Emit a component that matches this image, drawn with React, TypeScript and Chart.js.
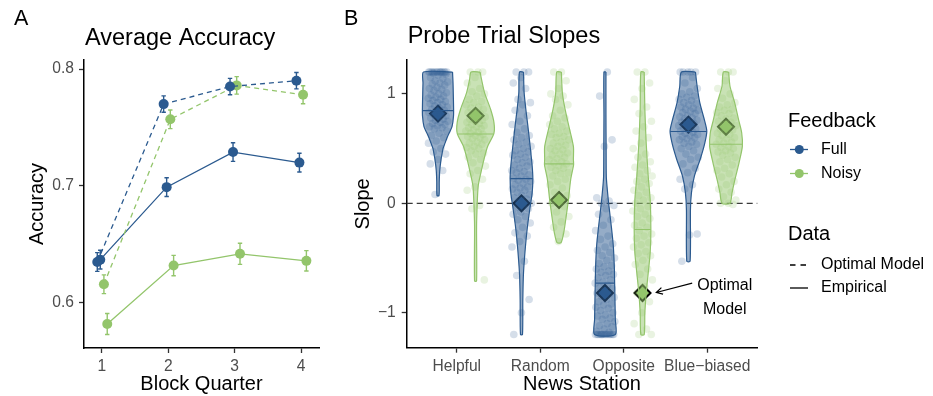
import React, { useEffect, useRef } from "react";
import { Chart, registerables } from "chart.js";

Chart.register(...registerables);

const FONT = "'Liberation Sans', Arial, Helvetica, sans-serif";
Chart.defaults.font.family = FONT;

const BLUE = "#2b5a8f";
const GREEN = "#93c56b";
const TICK_COLOR = "#4d4d4d";

// ---------- Panel A: average accuracy per block quarter ----------
const quarters = [1, 2, 3, 4];
const accTicks = [0.6, 0.7, 0.8];
const fullOptimalAcc = [0.635, 0.77, 0.785, 0.79];
const fullOptimalSe = [0.008, 0.007, 0.007, 0.007];
const noisyOptimalAcc = [0.616, 0.757, 0.786, 0.778];
const noisyOptimalSe = [0.008, 0.008, 0.0075, 0.0077];
const fullEmpiricalAcc = [0.637, 0.699, 0.729, 0.72];
const fullEmpiricalSe = [0.008, 0.008, 0.008, 0.008];
const noisyEmpiricalAcc = [0.582, 0.632, 0.642, 0.636];
const noisyEmpiricalSe = [0.009, 0.0087, 0.009, 0.0087];

// ---------- Panel B: probe trial slopes per news station ----------
const stations = ["Helpful", "Random", "Opposite", "Blue\u2212biased"];
const slopeTicks = [-1, 0, 1];
const feedbackLevels = ["Full", "Noisy"];
const dataLevels = ["Optimal Model", "Empirical"];

const optimalFull = [0.82, 0.0, -0.82, 0.72];
const optimalNoisy = [0.8, 0.03, -0.82, 0.7];
const medianFull = [0.847, 0.226, -0.73, 0.657];
const medianNoisy = [0.634, 0.36, -0.24, 0.54];

// violin outlines: slope levels (top to bottom) and full violin width in x units
const helpfulFullLevels = [1.2, 1.1, 1.0, 0.9, 0.8, 0.7, 0.65, 0.6, 0.55, 0.5, 0.45, 0.4, 0.3, 0.2, 0.07];
const helpfulFullWidths = [0.348, 0.36, 0.366, 0.372, 0.372, 0.336, 0.276, 0.216, 0.168, 0.12, 0.096, 0.072, 0.042, 0.03, 0.024];
const helpfulNoisyLevels = [1.2, 1.13, 1.01, 0.86, 0.74, 0.64, 0.52, 0.4, 0.28, 0.16, 0.0, -0.21, -0.71];
const helpfulNoisyWidths = [0.108, 0.144, 0.216, 0.36, 0.44, 0.44, 0.288, 0.2, 0.128, 0.064, 0.04, 0.024, 0.024];
const randomFullLevels = [1.2, 1.01, 0.86, 0.71, 0.52, 0.34, 0.23, 0.095, -0.03, -0.21, -0.39, -0.64, -0.88, -1.2];
const randomFullWidths = [0.048, 0.064, 0.104, 0.152, 0.208, 0.256, 0.272, 0.256, 0.208, 0.144, 0.096, 0.048, 0.032, 0.024];
const randomNoisyLevels = [1.2, 1.01, 0.86, 0.71, 0.52, 0.4, 0.35, 0.22, 0.03, -0.15, -0.27, -0.36];
const randomNoisyWidths = [0.056, 0.08, 0.144, 0.232, 0.344, 0.344, 0.348, 0.28, 0.224, 0.16, 0.112, 0.048];
const oppositeFullLevels = [1.2, 0.8, 0.5, 0.25, 0.16, 0.0, -0.21, -0.39, -0.58, -0.73, -0.88, -1.06, -1.2];
const oppositeFullWidths = [0.024, 0.024, 0.028, 0.032, 0.048, 0.088, 0.152, 0.2, 0.224, 0.232, 0.24, 0.248, 0.248];
const oppositeNoisyLevels = [1.2, 0.86, 0.55, 0.25, 0.03, -0.24, -0.45, -0.64, -0.82, -1.0, -1.2];
const oppositeNoisyWidths = [0.04, 0.056, 0.088, 0.136, 0.184, 0.2, 0.184, 0.136, 0.088, 0.056, 0.04];
const blueFullLevels = [1.2, 1.07, 0.92, 0.76, 0.66, 0.55, 0.4, 0.25, 0.095, -0.06, -0.53];
const blueFullWidths = [0.168, 0.208, 0.272, 0.384, 0.44, 0.392, 0.28, 0.144, 0.072, 0.048, 0.04];
const blueNoisyLevels = [1.2, 1.07, 0.92, 0.76, 0.645, 0.52, 0.37, 0.22, 0.095, 0.0];
const blueNoisyWidths = [0.064, 0.096, 0.208, 0.304, 0.376, 0.392, 0.312, 0.216, 0.144, 0.096];

// individual participant slopes
const helpfulFullSlopes = [1.2, 1.2, 1.2, 1.2, 1.2, 1.2, 1.2, 1.2, 1.2, 1.2, 1.2, 1.2, 1.2, 1.2, 1.19, 1.18, 1.17, 1.15, 1.14, 1.12, 1.11, 1.1, 1.09, 1.08, 1.06, 1.05, 1.04, 1.03, 1.01, 1.0, 0.99, 0.98, 0.97, 0.96, 0.95, 0.94, 0.93, 0.92, 0.91, 0.9, 0.89, 0.88, 0.87, 0.86, 0.85, 0.84, 0.83, 0.82, 0.81, 0.8, 0.79, 0.78, 0.77, 0.76, 0.75, 0.74, 0.73, 0.72, 0.71, 0.7, 0.69, 0.68, 0.66, 0.64, 0.62, 0.6, 0.57, 0.55, 0.5, 0.47, 0.45, 0.4, 0.36, 0.3, 0.08];
const helpfulNoisySlopes = [1.2, 1.2, 1.2, 1.15, 1.1, 1.05, 1.02, 1.0, 0.98, 0.95, 0.93, 0.92, 0.9, 0.88, 0.87, 0.86, 0.84, 0.83, 0.82, 0.8, 0.79, 0.78, 0.77, 0.76, 0.75, 0.74, 0.73, 0.72, 0.71, 0.7, 0.69, 0.68, 0.67, 0.66, 0.65, 0.64, 0.63, 0.62, 0.61, 0.6, 0.59, 0.58, 0.56, 0.55, 0.54, 0.52, 0.51, 0.5, 0.48, 0.46, 0.45, 0.42, 0.4, 0.37, 0.34, 0.3, 0.27, 0.22, 0.15, 0.12, -0.02, -0.05, -0.7];
const randomFullSlopes = [1.2, 1.2, 1.2, 1.15, 1.1, 1.05, 0.95, 0.92, 0.9, 0.85, 0.8, 0.75, 0.72, 0.68, 0.65, 0.62, 0.6, 0.58, 0.56, 0.54, 0.52, 0.5, 0.48, 0.47, 0.45, 0.44, 0.42, 0.4, 0.38, 0.37, 0.35, 0.34, 0.32, 0.3, 0.29, 0.28, 0.26, 0.25, 0.23, 0.22, 0.21, 0.2, 0.18, 0.17, 0.15, 0.14, 0.13, 0.12, 0.1, 0.08, 0.07, 0.05, 0.04, 0.02, 0, -0.02, -0.04, -0.05, -0.08, -0.1, -0.12, -0.15, -0.18, -0.22, -0.27, -0.3, -0.35, -0.4, -0.53, -0.66, -0.88, -1.0, -1.2];
const randomNoisySlopes = [1.2, 1.2, 1.12, 1.05, 1.0, 0.98, 0.95, 0.9, 0.85, 0.8, 0.78, 0.75, 0.72, 0.7, 0.68, 0.66, 0.64, 0.63, 0.61, 0.6, 0.58, 0.56, 0.55, 0.53, 0.52, 0.5, 0.49, 0.48, 0.46, 0.45, 0.44, 0.42, 0.41, 0.4, 0.38, 0.37, 0.36, 0.34, 0.33, 0.32, 0.3, 0.28, 0.27, 0.25, 0.22, 0.2, 0.17, 0.14, 0.1, 0.07, 0.03, 0, -0.03, -0.08, -0.12, -0.17, -0.22, -0.28, -0.35];
const oppositeFullSlopes = [1.2, 0.98, 0.58, 0.52, 0.05, 0.02, 0, -0.02, -0.05, -0.1, -0.15, -0.2, -0.25, -0.3, -0.33, -0.37, -0.4, -0.43, -0.45, -0.48, -0.5, -0.52, -0.55, -0.57, -0.58, -0.6, -0.62, -0.63, -0.65, -0.66, -0.68, -0.7, -0.72, -0.73, -0.75, -0.77, -0.78, -0.8, -0.82, -0.83, -0.85, -0.86, -0.88, -0.9, -0.92, -0.93, -0.95, -0.96, -0.98, -1.0, -1.02, -1.03, -1.05, -1.06, -1.08, -1.1, -1.12, -1.13, -1.15, -1.17, -1.18, -1.2, -1.2, -1.2, -1.2, -1.2, -1.2, -1.2, -1.2, -1.2, -1.2, -1.2, -1.2, -1.2, -1.2];
const oppositeNoisySlopes = [1.2, 1.2, 1.1, 1.05, 0.95, 0.88, 0.82, 0.75, 0.7, 0.66, 0.6, 0.55, 0.5, 0.45, 0.42, 0.38, 0.35, 0.33, 0.3, 0.27, 0.25, 0.22, 0.2, 0.18, 0.15, 0.12, 0.1, 0.07, 0.05, 0.03, 0, -0.03, -0.05, -0.07, -0.1, -0.12, -0.14, -0.18, -0.2, -0.22, -0.25, -0.28, -0.3, -0.32, -0.36, -0.38, -0.4, -0.44, -0.46, -0.48, -0.52, -0.56, -0.6, -0.65, -0.7, -0.76, -0.82, -0.9, -1.0, -1.1, -1.15, -1.2, -1.2];
const blueFullSlopes = [1.2, 1.2, 1.2, 1.2, 1.2, 1.15, 1.1, 1.05, 1.02, 1.0, 0.98, 0.97, 0.95, 0.94, 0.92, 0.91, 0.9, 0.88, 0.87, 0.86, 0.85, 0.84, 0.83, 0.82, 0.8, 0.79, 0.78, 0.77, 0.76, 0.75, 0.74, 0.73, 0.72, 0.71, 0.7, 0.69, 0.68, 0.67, 0.66, 0.65, 0.64, 0.63, 0.62, 0.61, 0.6, 0.59, 0.58, 0.56, 0.55, 0.54, 0.52, 0.5, 0.48, 0.45, 0.42, 0.4, 0.36, 0.32, 0.28, 0.22, 0.17, 0.13, -0.28, -0.29, -0.53];
const blueNoisySlopes = [1.2, 1.2, 1.2, 1.12, 1.05, 1.0, 0.96, 0.92, 0.9, 0.88, 0.86, 0.85, 0.83, 0.82, 0.8, 0.78, 0.77, 0.75, 0.74, 0.72, 0.71, 0.7, 0.68, 0.67, 0.66, 0.64, 0.63, 0.62, 0.6, 0.59, 0.58, 0.56, 0.55, 0.54, 0.52, 0.51, 0.5, 0.48, 0.47, 0.46, 0.44, 0.42, 0.4, 0.38, 0.35, 0.32, 0.3, 0.27, 0.24, 0.2, 0.17, 0.13, 0.1, 0.06, 0.03, 0, 0, -0.01];

const fullGroups = [
  { levels: helpfulFullLevels, widths: helpfulFullWidths, slopes: helpfulFullSlopes },
  { levels: randomFullLevels, widths: randomFullWidths, slopes: randomFullSlopes },
  { levels: oppositeFullLevels, widths: oppositeFullWidths, slopes: oppositeFullSlopes },
  { levels: blueFullLevels, widths: blueFullWidths, slopes: blueFullSlopes },
];
const noisyGroups = [
  { levels: helpfulNoisyLevels, widths: helpfulNoisyWidths, slopes: helpfulNoisySlopes },
  { levels: randomNoisyLevels, widths: randomNoisyWidths, slopes: randomNoisySlopes },
  { levels: oppositeNoisyLevels, widths: oppositeNoisyWidths, slopes: oppositeNoisySlopes },
  { levels: blueNoisyLevels, widths: blueNoisyWidths, slopes: blueNoisySlopes },
];

function alpha(hex: string, a: number) {
  const n = parseInt(hex.slice(1), 16);
  return `rgba(${(n >> 16) & 255},${(n >> 8) & 255},${n & 255},${a})`;
}

function widthAt(levels: number[], widths: number[], y: number) {
  for (let i = 0; i < levels.length - 1; i++) {
    const a = levels[i];
    const b = levels[i + 1];
    if (y <= a && y >= b) {
      const t = (a - y) / (a - b);
      return widths[i] + t * (widths[i + 1] - widths[i]);
    }
  }
  return widths[widths.length - 1];
}

function violinOutline(center: number, levels: number[], widths: number[]) {
  const right = levels.map((y, i) => ({ x: center + widths[i] / 2, y }));
  const left = levels.map((y, i) => ({ x: center - widths[i] / 2, y })).reverse();
  return [...right, ...left, right[0]];
}

// horizontal spread of the participant dots around the violin centre
const spread = (i: number) => ((((i + 1) * 0.6180339887) % 1) * 2 - 1) * 0.12;

const axisCommon = {
  grid: { display: true, drawOnChartArea: false, drawTicks: true, tickLength: 5, tickColor: "#333", tickWidth: 1.3 },
  border: { display: true, color: "#000", width: 1.5 },
};

const errorBarPlugin = {
  id: "errorBars",
  beforeDatasetsDraw(chart: any) {
    const { ctx, scales } = chart;
    chart.data.datasets.forEach((ds: any) => {
      if (!ds.se) return;
      ctx.save();
      ctx.strokeStyle = ds.borderColor;
      ctx.lineWidth = 1.4;
      ds.data.forEach((p: any, i: number) => {
        const px = scales.x.getPixelForValue(p.x);
        const top = scales.y.getPixelForValue(p.y + ds.se[i]);
        const bot = scales.y.getPixelForValue(p.y - ds.se[i]);
        ctx.beginPath();
        ctx.moveTo(px, top);
        ctx.lineTo(px, bot);
        ctx.moveTo(px - 2.2, top);
        ctx.lineTo(px + 2.2, top);
        ctx.moveTo(px - 2.2, bot);
        ctx.lineTo(px + 2.2, bot);
        ctx.stroke();
      });
      ctx.restore();
    });
  },
};

function headerPlugin(letter: string, title: string, titleBaseline: number) {
  return {
    id: "panelHeader",
    afterDraw(chart: any) {
      const { ctx, chartArea } = chart;
      ctx.save();
      ctx.fillStyle = "#000";
      ctx.textAlign = "left";
      ctx.textBaseline = "alphabetic";
      ctx.font = `21.5px ${FONT}`;
      ctx.fillText(letter, 14, 25);
      ctx.font = `23.5px ${FONT}`;
      ctx.fillText(title, chartArea.left + 1, titleBaseline);
      ctx.restore();
    },
  };
}

function AccuracyChart() {
  const ref = useRef<HTMLCanvasElement>(null);
  useEffect(() => {
    const series = [
      { values: fullOptimalAcc, se: fullOptimalSe, shift: -0.07, color: BLUE, dashed: true },
      { values: noisyOptimalAcc, se: noisyOptimalSe, shift: 0.03, color: GREEN, dashed: true },
      { values: fullEmpiricalAcc, se: fullEmpiricalSe, shift: -0.025, color: BLUE, dashed: false },
      { values: noisyEmpiricalAcc, se: noisyEmpiricalSe, shift: 0.08, color: GREEN, dashed: false },
    ];
    const chart = new Chart(ref.current!, {
      type: "scatter",
      data: {
        datasets: series.map((s) => ({
          data: quarters.map((q, i) => ({ x: q + s.shift, y: s.values[i] })),
          se: s.se,
          showLine: true,
          borderColor: s.color,
          backgroundColor: s.color,
          pointBackgroundColor: s.color,
          pointBorderWidth: 0,
          pointRadius: 5,
          borderWidth: 1.3,
          borderDash: s.dashed ? [5, 4] : [],
          tension: 0,
        })) as any,
      },
      options: {
        responsive: false,
        animation: false,
        events: [],
        layout: { padding: { left: 0, right: 11, top: 60, bottom: 0 } },
        plugins: { legend: { display: false }, tooltip: { enabled: false } },
        scales: {
          x: {
            type: "linear",
            min: 0.73,
            max: 4.27,
            afterFit: (s: any) => { s.height = 48; },
            afterBuildTicks: (s: any) => { s.ticks = quarters.map((v) => ({ value: v })); },
            ticks: { color: TICK_COLOR, font: { size: 15.6 }, padding: 4, maxRotation: 0, callback: (v: any) => String(v) },
            title: { display: true, text: "Block Quarter", color: "#000", font: { size: 20 }, padding: { top: 0, bottom: 0 } },
            ...axisCommon,
          },
          y: {
            type: "linear",
            min: 0.5615,
            max: 0.8077,
            afterFit: (s: any) => { s.width = 84; },
            afterBuildTicks: (s: any) => { s.ticks = accTicks.map((v) => ({ value: v })); },
            ticks: { color: TICK_COLOR, font: { size: 15.6 }, padding: 5, callback: (v: any) => Number(v).toFixed(1) },
            title: { display: true, text: "Accuracy", color: "#000", font: { size: 20 }, padding: { top: 25, bottom: 0 } },
            ...axisCommon,
          },
        },
      } as any,
      plugins: [errorBarPlugin, headerPlugin("A", "Average Accuracy", 44.5)],
    });
    return () => chart.destroy();
  }, []);
  return <canvas ref={ref} width={330} height={396} style={{ position: "absolute", left: 0, top: 0 }} />;
}

const zeroLinePlugin = {
  id: "zeroLine",
  beforeDatasetsDraw(chart: any) {
    const { ctx, chartArea, scales } = chart;
    const y = scales.y.getPixelForValue(0);
    ctx.save();
    ctx.strokeStyle = "#3a3a3a";
    ctx.lineWidth = 1.3;
    ctx.setLineDash([6, 4]);
    ctx.beginPath();
    ctx.moveTo(chartArea.left, y);
    ctx.lineTo(chartArea.right, y);
    ctx.stroke();
    ctx.restore();
  },
};

const annotationPlugin = {
  id: "optimalNote",
  afterDatasetsDraw(chart: any) {
    const { ctx, scales } = chart;
    const tx = scales.x.getPixelForValue(3.82);
    const ty = scales.y.getPixelForValue(-0.73);
    const hx = scales.x.getPixelForValue(3.39);
    const hy = scales.y.getPixelForValue(-0.815);
    ctx.save();
    ctx.strokeStyle = "#000";
    ctx.lineWidth = 1.2;
    ctx.beginPath();
    ctx.moveTo(tx, ty);
    ctx.lineTo(hx, hy);
    const ang = Math.atan2(hy - ty, hx - tx);
    const len = 7;
    ctx.moveTo(hx - len * Math.cos(ang - 0.5), hy - len * Math.sin(ang - 0.5));
    ctx.lineTo(hx, hy);
    ctx.lineTo(hx - len * Math.cos(ang + 0.5), hy - len * Math.sin(ang + 0.5));
    ctx.stroke();
    ctx.fillStyle = "#000";
    ctx.font = `16px ${FONT}`;
    ctx.textAlign = "center";
    ctx.textBaseline = "middle";
    const cx = scales.x.getPixelForValue(4.21);
    const cy = scales.y.getPixelForValue(-0.86);
    ctx.fillText("Optimal", cx, cy - 11.75);
    ctx.fillText("Model", cx, cy + 11.75);
    ctx.restore();
  },
};

const legendPlugin = {
  id: "feedbackLegend",
  afterDraw(chart: any) {
    const { ctx } = chart;
    const x0 = 458;
    ctx.save();
    ctx.fillStyle = "#000";
    ctx.textAlign = "left";
    ctx.textBaseline = "alphabetic";
    ctx.font = `20px ${FONT}`;
    ctx.fillText("Feedback", x0, 127);
    ctx.fillText("Data", x0, 240);
    ctx.font = `16px ${FONT}`;
    ctx.textBaseline = "middle";
    const colors = [BLUE, GREEN];
    feedbackLevels.forEach((label, i) => {
      const y = 149.5 + i * 24;
      ctx.strokeStyle = colors[i];
      ctx.lineWidth = 1.3;
      ctx.beginPath();
      ctx.moveTo(x0 + 2, y);
      ctx.lineTo(x0 + 20, y);
      ctx.stroke();
      ctx.fillStyle = colors[i];
      ctx.beginPath();
      ctx.arc(x0 + 11.3, y, 4.5, 0, Math.PI * 2);
      ctx.fill();
      ctx.fillStyle = "#000";
      ctx.fillText(label, x0 + 33, y);
    });
    dataLevels.forEach((label, i) => {
      const y = 265 + i * 23;
      ctx.strokeStyle = "#000";
      ctx.lineWidth = 1.3;
      ctx.setLineDash(i === 0 ? [5.5, 5] : []);
      ctx.beginPath();
      ctx.moveTo(x0 + 2, y);
      ctx.lineTo(x0 + 20, y);
      ctx.stroke();
      ctx.setLineDash([]);
      ctx.fillText(label, x0 + 33, y);
    });
    ctx.restore();
  },
};

function SlopeChart() {
  const ref = useRef<HTMLCanvasElement>(null);
  useEffect(() => {
    const datasets: any[] = [];
    const groupSets = [
      { groups: fullGroups, color: BLUE, shift: -0.225, medians: medianFull },
      { groups: noisyGroups, color: GREEN, shift: 0.225, medians: medianNoisy },
    ];
    groupSets.forEach(({ groups, color, shift, medians }) => {
      groups.forEach((g, k) => {
        const center = k + 1 + shift;
        datasets.push({
          data: violinOutline(center, g.levels, g.widths),
          showLine: true,
          fill: "shape",
          backgroundColor: alpha(color, 0.5),
          borderColor: color,
          borderWidth: 1.2,
          pointRadius: 0,
          tension: 0.25,
        });
        datasets.push({
          data: g.slopes.map((v, i) => ({ x: center + spread(i), y: v })),
          showLine: false,
          pointRadius: 3.8,
          pointBorderWidth: 0,
          pointBackgroundColor: alpha(color, 0.2),
          backgroundColor: alpha(color, 0.2),
        });
        const hw = widthAt(g.levels, g.widths, medians[k]) / 2;
        datasets.push({
          data: [{ x: center - hw, y: medians[k] }, { x: center + hw, y: medians[k] }],
          showLine: true,
          borderColor: color,
          borderWidth: 1.1,
          pointRadius: 0,
        });
      });
    });
    [
      { values: optimalFull, color: BLUE, shift: -0.225 },
      { values: optimalNoisy, color: GREEN, shift: 0.225 },
    ].forEach((s) => {
      datasets.push({
        data: s.values.map((v, k) => ({ x: k + 1 + s.shift, y: v })),
        showLine: false,
        pointStyle: "rectRot",
        pointRadius: 8,
        pointBorderWidth: 2,
        pointBorderColor: "#000",
        pointBackgroundColor: s.color,
        backgroundColor: s.color,
        borderColor: "#000",
      });
    });

    const chart = new Chart(ref.current!, {
      type: "scatter",
      data: { datasets },
      options: {
        responsive: false,
        animation: false,
        events: [],
        layout: { padding: { left: 0, right: 175.7, top: 60, bottom: 0 } },
        plugins: { legend: { display: false }, tooltip: { enabled: false } },
        scales: {
          x: {
            type: "linear",
            min: 0.4,
            max: 4.6,
            afterFit: (s: any) => { s.height = 48.3; },
            afterBuildTicks: (s: any) => { s.ticks = stations.map((_, i) => ({ value: i + 1 })); },
            ticks: { color: TICK_COLOR, font: { size: 15.6 }, padding: 5, maxRotation: 0, autoSkip: false, callback: (v: any) => stations[Math.round(v) - 1] },
            title: { display: true, text: "News Station", color: "#000", font: { size: 20 }, padding: { top: 0, bottom: 0 } },
            ...axisCommon,
          },
          y: {
            type: "linear",
            min: -1.32,
            max: 1.31,
            afterFit: (s: any) => { s.width = 76.7; },
            afterBuildTicks: (s: any) => { s.ticks = slopeTicks.map((v) => ({ value: v })); },
            ticks: { color: TICK_COLOR, font: { size: 15.6 }, padding: 6, callback: (v: any) => (v < 0 ? "\u2212" + Math.abs(v) : String(v)) },
            title: { display: true, text: "Slope", color: "#000", font: { size: 20 }, padding: { top: 21, bottom: 0 } },
            ...axisCommon,
          },
        },
      } as any,
      plugins: [zeroLinePlugin, annotationPlugin, legendPlugin, headerPlugin("B", "Probe Trial Slopes", 42.5)],
    });
    return () => chart.destroy();
  }, []);
  return <canvas ref={ref} width={603} height={396} style={{ position: "absolute", left: 330, top: 0 }} />;
}

export default function App() {
  return (
    <div style={{ position: "fixed", left: 0, top: 0, width: 933, height: 396, background: "#fff", overflow: "hidden" }}>
      <AccuracyChart />
      <SlopeChart />
    </div>
  );
}
